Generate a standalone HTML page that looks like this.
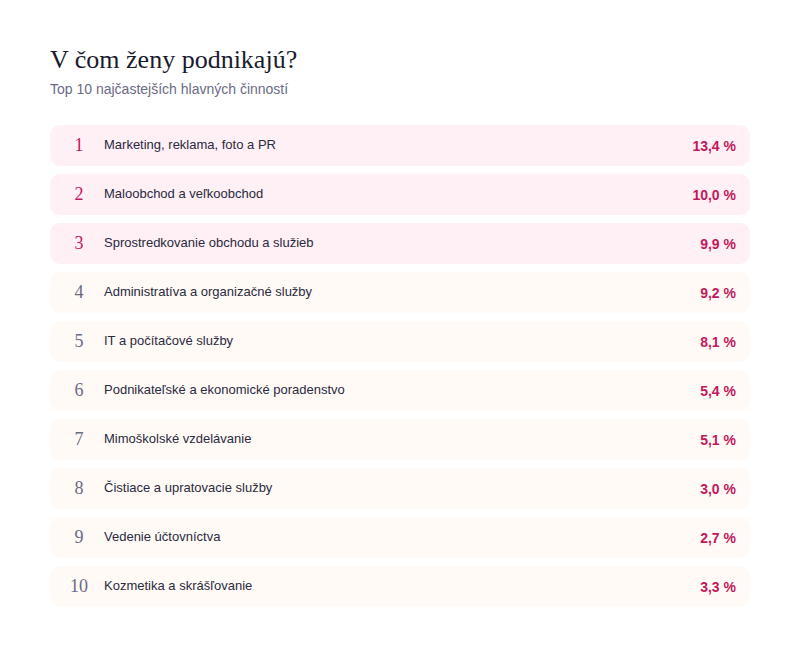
<!DOCTYPE html>
<html lang="sk">
<head>
<meta charset="utf-8">
<title>V čom ženy podnikajú?</title>
<style>
  * { box-sizing: border-box; margin: 0; padding: 0; }
  html, body { background: #ffffff; height: 652px; overflow: hidden; }
  body {
    width: 800px;
    font-family: "Liberation Sans", sans-serif;
    color: #2a2a40;
    padding: 0 50px;
  }
  h1 {
    font-family: "Liberation Serif", serif;
    font-weight: 400;
    font-size: 26px;
    line-height: 30px;
    color: #1a1a2e;
    margin-top: 45px;
  }
  .sub {
    font-size: 14px;
    line-height: 18px;
    color: #6b6b85;
    margin-top: 5px;
  }
  ul { list-style: none; margin-top: 27px; }
  li {
    display: flex;
    align-items: center;
    height: 41px;
    margin-bottom: 8px;
    border-radius: 10px;
    background: #fffaf6;
    padding: 0 14px;
  }
  li.top { background: #fff0f5; }
  .n {
    width: 30px;
    text-align: center;
    font-family: "Liberation Serif", serif;
    font-size: 18px;
    color: #6b6b85;
    margin-right: 10px;
  }
  li.top .n { color: #c2185b; }
  .l { flex: 1; font-size: 13px; color: #2a2a40; position: relative; top: -1px; }
  .p { font-size: 14px; font-weight: 700; color: #c2185b; }
</style>
</head>
<body>
  <h1>V čom ženy podnikajú?</h1>
  <div class="sub">Top 10 najčastejších hlavných činností</div>
  <ul>
    <li class="top"><span class="n">1</span><span class="l">Marketing, reklama, foto a PR</span><span class="p">13,4 %</span></li>
    <li class="top"><span class="n">2</span><span class="l">Maloobchod a veľkoobchod</span><span class="p">10,0 %</span></li>
    <li class="top"><span class="n">3</span><span class="l">Sprostredkovanie obchodu a služieb</span><span class="p">9,9 %</span></li>
    <li><span class="n">4</span><span class="l">Administratíva a organizačné služby</span><span class="p">9,2 %</span></li>
    <li><span class="n">5</span><span class="l">IT a počítačové služby</span><span class="p">8,1 %</span></li>
    <li><span class="n">6</span><span class="l">Podnikateľské a ekonomické poradenstvo</span><span class="p">5,4 %</span></li>
    <li><span class="n">7</span><span class="l">Mimoškolské vzdelávanie</span><span class="p">5,1 %</span></li>
    <li><span class="n">8</span><span class="l">Čistiace a upratovacie služby</span><span class="p">3,0 %</span></li>
    <li><span class="n">9</span><span class="l">Vedenie účtovníctva</span><span class="p">2,7 %</span></li>
    <li><span class="n">10</span><span class="l">Kozmetika a skrášľovanie</span><span class="p">3,3 %</span></li>
  </ul>
</body>
</html>
